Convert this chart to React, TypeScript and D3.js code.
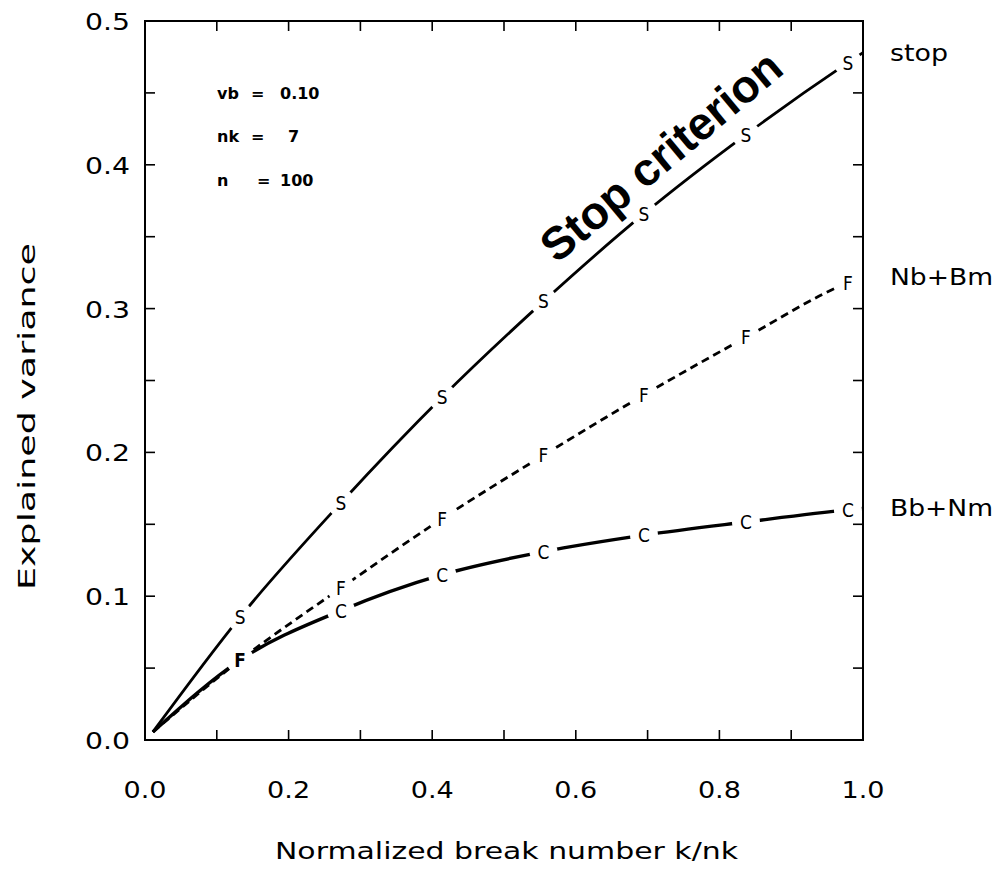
import React from "react";
import * as d3 from "d3";

// Normalized break number k/nk at which each curve was sampled
const kNorm = [0.011, 0.1325, 0.273, 0.414, 0.555, 0.695, 0.837, 0.979, 1.0];
// Explained variance for each criterion
const stopCrit = [0.0056, 0.0855, 0.165, 0.2385, 0.305, 0.366, 0.421, 0.471, 0.478];
const nbBm = [0.0056, 0.0556, 0.1057, 0.154, 0.198, 0.24, 0.28, 0.318, 0.322];
const bbNm = [0.0056, 0.0556, 0.09, 0.115, 0.131, 0.1425, 0.1516, 0.16, 0.161];

const seriesNames = ["stop", "Nb+Bm", "Bb+Nm"];
const seriesSymbols = ["S", "F", "C"];
const seriesValues = [stopCrit, nbBm, bbNm];
const seriesDashes = [null, "8,5", null];
const seriesWidths = [2.8, 2.8, 3.4];

const xTickValues = [0, 0.2, 0.4, 0.6, 0.8, 1.0];
const yTickValues = [0, 0.1, 0.2, 0.3, 0.4, 0.5];
const paramNames = ["vb", "nk", "n"];
const paramValues = ["0.10", "7", "100"];

const W = 995;
const H = 877;
const M = { left: 145, right: 863, top: 21, bottom: 740 };
const FONT = "'DejaVu Sans', sans-serif";

export default function App() {
  const x = d3.scaleLinear().domain([0, 1]).range([M.left, M.right]);
  const y = d3.scaleLinear().domain([0, 0.5]).range([M.bottom, M.top]);

  const line = d3
    .line<number>()
    .x((_, i) => x(kNorm[i]))
    .y((d) => y(d))
    .curve(d3.curveMonotoneX);

  const markerIdx = d3.range(1, kNorm.length - 1);
  const minorX = d3.range(1, 10).map((i) => i / 10);
  const minorY = d3.range(1, 10).map((i) => i * 0.05);

  // where two series share a point, only the first one's symbol is drawn, in bold
  const sharedWithEarlier = (s: number, i: number) =>
    seriesValues.some((other, o) => o < s && Math.abs(other[i] - seriesValues[s][i]) < 0.002);
  const sharedWithLater = (s: number, i: number) =>
    seriesValues.some((other, o) => o > s && Math.abs(other[i] - seriesValues[s][i]) < 0.002);

  return (
    <svg
      width={W}
      height={H}
      style={{ position: "absolute", left: 0, top: 0, background: "#fff" }}
      fontFamily={FONT}
    >
      <rect width={W} height={H} fill="#fff" />
      <defs>
        {seriesValues.map((vals, s) => (
          <mask id={`gap-${s}`} key={s} maskUnits="userSpaceOnUse" x={0} y={0} width={W} height={H}>
            <rect width={W} height={H} fill="#fff" />
            {markerIdx.map((i) => (
              <circle key={i} cx={x(kNorm[i])} cy={y(vals[i])} r={14} fill="#000" />
            ))}
          </mask>
        ))}
      </defs>

      {/* frame */}
      <rect
        x={M.left}
        y={M.top}
        width={M.right - M.left}
        height={M.bottom - M.top}
        fill="none"
        stroke="#000"
        strokeWidth={2}
      />
      {/* bottom and top ticks */}
      {minorX.map((t) => (
        <g key={`xt${t}`} stroke="#000" strokeWidth={1.6}>
          <line x1={x(t)} x2={x(t)} y1={M.bottom} y2={M.bottom - 10} />
          <line x1={x(t)} x2={x(t)} y1={M.top} y2={M.top + 10} />
        </g>
      ))}
      {/* left and right ticks */}
      {minorY.map((t) => (
        <g key={`yt${t}`} stroke="#000" strokeWidth={1.6}>
          <line x1={M.left} x2={M.left + 10} y1={y(t)} y2={y(t)} />
          <line x1={M.right} x2={M.right - 10} y1={y(t)} y2={y(t)} />
        </g>
      ))}

      {/* tick labels */}
      {xTickValues.map((t) => (
        <text
          key={`xl${t}`}
          x={x(t)}
          y={790}
          textAnchor="middle"
          dominantBaseline="central"
          fontSize={23}
          textLength={43}
          lengthAdjust="spacingAndGlyphs"
        >
          {t.toFixed(1)}
        </text>
      ))}
      {yTickValues.map((t) => (
        <text
          key={`yl${t}`}
          x={130}
          y={y(t) + 1}
          textAnchor="end"
          dominantBaseline="central"
          fontSize={23}
          textLength={45}
          lengthAdjust="spacingAndGlyphs"
        >
          {t.toFixed(1)}
        </text>
      ))}

      {/* axis titles */}
      <text
        x={(275 + 738) / 2}
        y={851}
        textAnchor="middle"
        dominantBaseline="central"
        fontSize={23}
        textLength={463}
        lengthAdjust="spacingAndGlyphs"
      >
        Normalized break number k/nk
      </text>
      <text
        transform={`translate(27, ${(243 + 590) / 2}) rotate(-90)`}
        textAnchor="middle"
        dominantBaseline="central"
        fontSize={23}
        textLength={347}
        lengthAdjust="spacingAndGlyphs"
      >
        Explained variance
      </text>

      {/* curves */}
      {seriesValues.map((vals, s) => (
        <path
          key={`c${s}`}
          d={line(vals) || ""}
          fill="none"
          stroke="#000"
          strokeWidth={seriesWidths[s]}
          strokeDasharray={seriesDashes[s] || undefined}
          mask={`url(#gap-${s})`}
        />
      ))}

      {/* curve symbols */}
      {seriesValues.map((vals, s) =>
        markerIdx
          .filter((i) => !sharedWithEarlier(s, i))
          .map((i) => (
            <text
              key={`m${s}-${i}`}
              x={x(kNorm[i])}
              y={y(vals[i])}
              textAnchor="middle"
              dominantBaseline="central"
              fontSize={20}
              fontWeight={sharedWithLater(s, i) ? "bold" : "normal"}
              transform={`translate(${x(kNorm[i])},0) scale(0.85,1) translate(${-x(kNorm[i])},0)`}
            >
              {seriesSymbols[s]}
            </text>
          ))
      )}

      {/* series labels at the right */}
      {seriesValues.map((vals, s) => (
        <text
          key={`n${s}`}
          x={890}
          y={y(vals[vals.length - 1])}
          dominantBaseline="central"
          fontSize={23}
          textLength={seriesNames[s].length > 4 ? 103 : 58}
          lengthAdjust="spacingAndGlyphs"
        >
          {seriesNames[s]}
        </text>
      ))}

      {/* run parameters */}
      {paramNames.map((p, i) => (
        <g key={`p${p}`} fontSize={16} fontWeight="bold" dominantBaseline="central">
          <text x={217} y={93 + i * 43.5}>
            {p}
          </text>
          <text x={p === "n" ? 257 : 251} y={93 + i * 43.5}>
            =
          </text>
          <text x={i === 1 ? 288 : 280} y={93 + i * 43.5}>
            {paramValues[i]}
          </text>
        </g>
      ))}

      {/* annotation */}
      <text
        transform="translate(661, 156) rotate(-40)"
        textAnchor="middle"
        dominantBaseline="central"
        fontFamily="'Liberation Sans', Arial, sans-serif"
        fontWeight="bold"
        fontSize={46}
      >
        Stop criterion
      </text>
    </svg>
  );
}
